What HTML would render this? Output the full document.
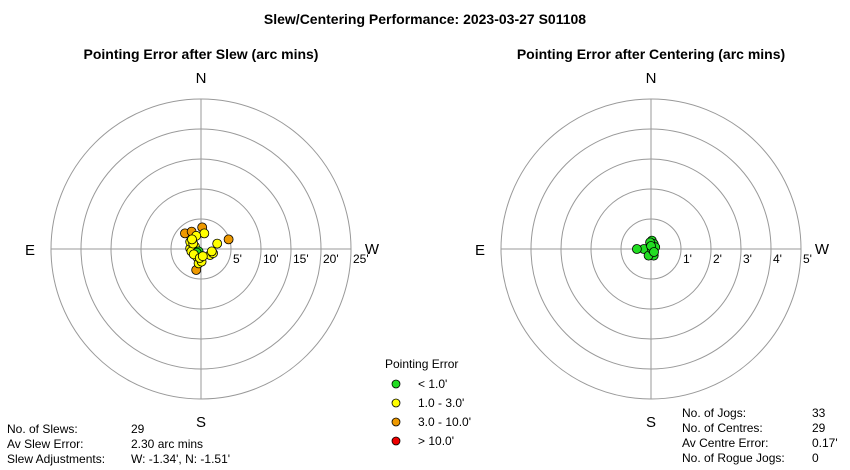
<!DOCTYPE html>
<html><head><meta charset="utf-8"><style>
body{margin:0;background:#fff;}
svg{display:block;font-family:"Liberation Sans",Arial,sans-serif;}
</style></head><body>
<svg width="850" height="470" viewBox="0 0 850 470">
<text x="425" y="24" text-anchor="middle" font-size="14" font-weight="bold">Slew/Centering Performance: 2023-03-27 S01108</text>
<g id="left"></g>
<g id="right"></g>
<g font-size="12">
<text x="385" y="368">Pointing Error</text>
<g><circle cx="396" cy="384" r="4" fill="#22dd22" stroke="#000" stroke-width="0.8"/><text x="418" y="388">&lt; 1.0'</text></g>
<g><circle cx="396" cy="403" r="4" fill="#ffff00" stroke="#000" stroke-width="0.8"/><text x="418" y="407">1.0 - 3.0'</text></g>
<g><circle cx="396" cy="422" r="4" fill="#ee9900" stroke="#000" stroke-width="0.8"/><text x="418" y="426">3.0 - 10.0'</text></g>
<g><circle cx="396" cy="441" r="4" fill="#ee0000" stroke="#000" stroke-width="0.8"/><text x="418" y="445">&gt; 10.0'</text></g>
</g>
<g font-size="12">
<text x="7" y="433">No. of Slews:</text><text x="131" y="433">29</text>
<text x="7" y="448">Av Slew Error:</text><text x="131" y="448">2.30 arc mins</text>
<text x="7" y="463">Slew Adjustments:</text><text x="131" y="463">W: -1.34', N: -1.51'</text>
</g>
<g font-size="12">
<text x="682" y="417">No. of Jogs:</text><text x="812" y="417">33</text>
<text x="682" y="432">No. of Centres:</text><text x="812" y="432">29</text>
<text x="682" y="447">Av Centre Error:</text><text x="812" y="447">0.17'</text>
<text x="682" y="462">No. of Rogue Jogs:</text><text x="812" y="462">0</text>
</g>
</svg>
<script>
// Slew errors in arcmin: west (+) and north (+)
const slewW = [-2.67,-1.56,0.2,0.55,2.7,4.6,-0.8,-0.8,-1.0,-1.8,-1.6,-0.7,-0.4,0.1,1.5,2.0,1.8,-1.8,-1.3,-0.4,-0.7,-1.2,-0.2,0.3,-1.5];
const slewN = [2.6,2.9,3.6,2.6,0.9,1.6,-3.5,2.2,0.4,0.1,-0.4,-1.3,-2.4,-2.1,-1.0,-0.7,-0.4,1.2,0.9,-0.4,-0.6,-0.9,-1.5,-1.2,1.6];
const centW = [0.03,0.09,-0.03,-0.13,-0.24,-0.47,0.09,-0.08,0.03,0.14,0.0,0.1];
const centN = [0.28,0.17,0.22,0.0,0.0,0.0,-0.22,-0.22,0.0,0.06,0.1,-0.1];
const slewTicks = ["5'","10'","15'","20'","25'"];
const centTicks = ["1'","2'","3'","4'","5'"];
const NS='http://www.w3.org/2000/svg';
function mk(p,t,a){const e=document.createElementNS(NS,t);for(const k in a)e.setAttribute(k,a[k]);p.appendChild(e);return e;}
function col(m){return m<1?'#22dd22':m<3?'#ffff00':m<10?'#ee9900':'#ee0000';}
function polar(g,cx,cy,title,ticks,step,ws,ns){
  const R=30, scale=R/step;
  const t=mk(g,'text',{x:cx,y:59,'text-anchor':'middle','font-size':'14','font-weight':'bold'});t.textContent=title;
  
  
  for(let i=1;i<=5;i++){const c=mk(g,'circle',{cx:cx,cy:cy,r:R*i,fill:'none',stroke:'#999','stroke-width':1});
    
    }
  mk(g,'line',{x1:cx,y1:cy-150,x2:cx,y2:cy+150,stroke:'#999'});
  mk(g,'line',{x1:cx-150,y1:cy,x2:cx+150,y2:cy,stroke:'#999'});
  const lab=[['N',cx,cy-166],['S',cx,cy+178],['E',cx-171,cy+6],['W',cx+171,cy+5]];
  lab.forEach(l=>{const e=mk(g,'text',{x:l[1],y:l[2],'text-anchor':'middle','font-size':'15'});e.textContent=l[0];
    
    });
  ticks.forEach((s,i)=>{const e=mk(g,'text',{x:cx+R*(i+1)+2,y:cy+14,'font-size':'12'});e.textContent=s;
    
    });
  ws.forEach((w,i)=>{const n=ns[i];const m=Math.hypot(w,n);
    const c=mk(g,'circle',{cx:cx+w*scale,cy:cy-n*scale,r:4.5,fill:col(m),stroke:'#000','stroke-width':0.8});
    
    });
}
polar(document.getElementById('left'),201,249,'Pointing Error after Slew (arc mins)',slewTicks,5,slewW,slewN);
polar(document.getElementById('right'),651,249,'Pointing Error after Centering (arc mins)',centTicks,1,centW,centN);
</script>
</body></html>
